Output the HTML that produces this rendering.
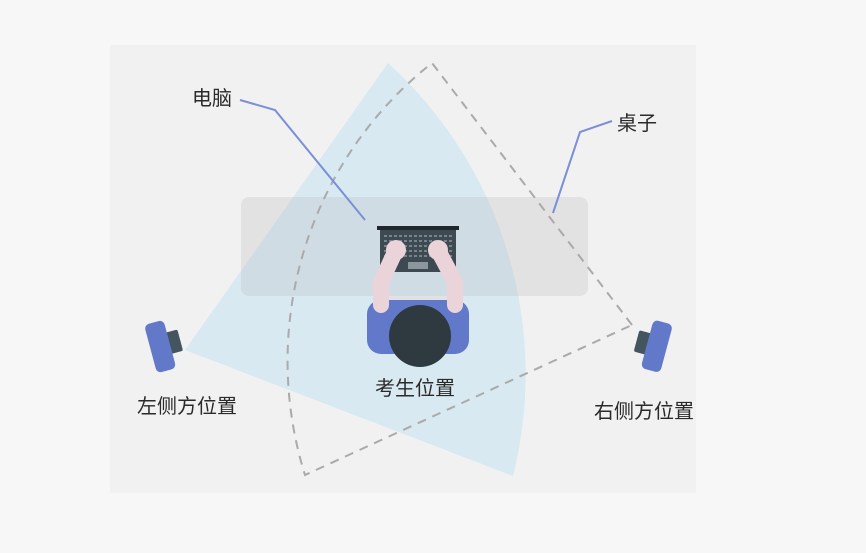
<!DOCTYPE html>
<html><head><meta charset="utf-8"><style>
html,body{margin:0;padding:0;background:#f7f7f7;}
svg{display:block}
text{font-family:"Liberation Sans","Noto Sans CJK SC",sans-serif;font-size:20px;fill:#2a2a2a;}
</style></head><body>
<svg width="866" height="553" viewBox="0 0 866 553">
<rect x="0" y="0" width="866" height="553" fill="#f7f7f7"/>
<rect x="110" y="45" width="586" height="448" fill="#f1f1f1"/>
<!-- blue sector -->
<path d="M185,350 L388,63 A420,420 0 0 1 513,476 Z" fill="#d8e9f2"/>
<!-- desk -->
<rect x="241" y="197" width="347" height="99" rx="8" fill="#b8b8b8" fill-opacity="0.25"/>
<!-- dashed sector -->
<path d="M632,325 L432,63 A380,380 0 0 0 305,475 Z" fill="none" stroke="#aaa" stroke-width="2" stroke-dasharray="9,7"/>
<!-- laptop -->
<rect x="380" y="229" width="76" height="43" fill="#3d4a52"/>
<rect x="377" y="226" width="82" height="4" fill="#1f272c"/>
<g stroke="#8c979d" stroke-width="1.5" stroke-dasharray="3,2">
<line x1="384" y1="236" x2="452" y2="236"/><line x1="384" y1="241" x2="452" y2="241"/>
<line x1="384" y1="246" x2="452" y2="246"/><line x1="384" y1="251" x2="452" y2="251"/>
<line x1="384" y1="256" x2="452" y2="256"/>
</g>
<rect x="408" y="262" width="20" height="7" fill="#8c979d"/>
<!-- person -->
<rect x="388" y="296" width="60" height="30" fill="#e2e2e2"/>
<rect x="367" y="300" width="102" height="54" rx="14" fill="#6279c9"/>
<g stroke="#ead3d9" stroke-width="16" stroke-linecap="round" fill="none">
<path d="M395,252 L381,282 L381,305"/>
<path d="M439,252 L455,282 L455,305"/>
</g>
<circle cx="396" cy="250" r="10" fill="#ead3d9"/>
<circle cx="438" cy="250" r="10" fill="#ead3d9"/>
<circle cx="420" cy="336" r="31" fill="#2f3a40"/>
<!-- left camera -->
<g transform="rotate(-15 166 345)">
<rect x="167" y="333" width="14" height="22" rx="2" fill="#45555f"/>
<rect x="150" y="320" width="20" height="50" rx="5" fill="#6279c9"/>
</g>
<!-- right camera -->
<g transform="rotate(15 652 345)">
<rect x="636" y="334" width="14" height="22" rx="2" fill="#45555f"/>
<rect x="647" y="320" width="20" height="50" rx="5" fill="#6279c9"/>
</g>
<!-- callouts -->
<polyline points="240,100 275,110 365,220" fill="none" stroke="#7b8fd6" stroke-width="2"/>
<polyline points="612,121 580,132 553,213" fill="none" stroke="#7b8fd6" stroke-width="2"/>
<text x="192" y="105">电脑</text>
<text x="617" y="130">桌子</text>
<text x="375" y="395">考生位置</text>
<text x="137" y="413">左侧方位置</text>
<text x="594" y="418">右侧方位置</text>
</svg>
</body></html>
